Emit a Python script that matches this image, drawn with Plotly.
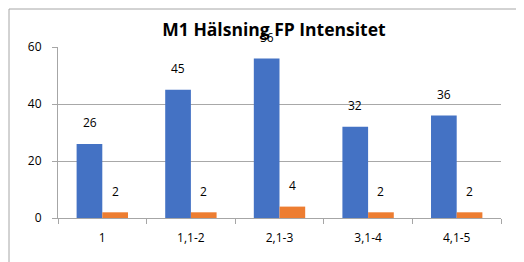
import plotly.graph_objects as go

categories = ["1", "1,1-2", "2,1-3", "3,1-4", "4,1-5"]
series_a = [26, 45, 56, 32, 36]
series_b = [2, 2, 4, 2, 2]
title = "M1 Hälsning FP Intensitet"

# page body has an 8px margin, so the figure is offset by (8, 8)
OFF = 8
W, H = 524 - OFF, 262 - OFF
L, R, T, B = 58 - OFF, 23, 47 - OFF, 44
pw, ph = W - L - R, H - T - B

fig = go.Figure()
fig.add_trace(go.Bar(x=list(range(len(categories))), y=series_a,
                     marker=dict(color="#4472C4", line_width=0), name="A"))
fig.add_trace(go.Bar(x=list(range(len(categories))), y=series_b,
                     marker=dict(color="#ED7D31", line_width=0), name="B"))

font = "'Open Sans', sans-serif"
for i in range(len(categories)):
    for vals, dx in ((series_a, -12.8), (series_b, 12.8)):
        fig.add_annotation(x=i, y=vals[i], text=str(vals[i]), showarrow=False,
                           xshift=dx, yshift=21, font=dict(size=12, color="#000000", family=font))

fig.add_shape(type="rect", xref="paper", yref="paper",
              x0=(1 - L) / pw, x1=(W + 10 - L) / pw,
              y0=-(H + 10 - T - ph) / ph, y1=(ph + T - 1) / ph,
              line=dict(color="#a6a6a6", width=1), fillcolor="rgba(0,0,0,0)", layer="below")

fig.update_layout(
    width=W, height=H, margin=dict(l=L, r=R, t=T, b=B),
    paper_bgcolor="white", plot_bgcolor="white",
    showlegend=False, barmode="group", bargap=0.42, bargroupgap=0,
    title=dict(text="<b>" + title + "</b>", x=(274 - OFF) / W, xanchor="center",
               y=1 - (30 - OFF) / H, yanchor="middle",
               font=dict(size=17.5, color="#000000", family=font)),
    font=dict(family=font, size=12, color="#000000"),
)
fig.update_xaxes(tickmode="array", tickvals=list(range(len(categories))), ticktext=categories,
                 range=[-0.5, len(categories) - 0.5],
                 showline=True, linecolor="#a6a6a6", linewidth=1, ticklabelstandoff=9,
                 ticks="", showgrid=False, tickfont=dict(size=12, family=font))
# boundary ticks drawn as minor ticks at half positions
fig.update_xaxes(minor=dict(tickmode="array", tickvals=[i - 0.5 for i in range(len(categories) + 1)],
                            ticks="outside", ticklen=5, tickcolor="#a6a6a6", showgrid=False))
fig.update_yaxes(range=[0, 60], tickvals=[0, 20, 40, 60], showline=True, linecolor="#a6a6a6",
                 linewidth=1, ticks="outside", ticklen=5, tickcolor="#a6a6a6", ticklabelstandoff=8,
                 showgrid=True, gridcolor="#a8a8a8", gridwidth=1, zeroline=False,
                 tickfont=dict(size=12, family=font))

fig.write_html("out.html")
